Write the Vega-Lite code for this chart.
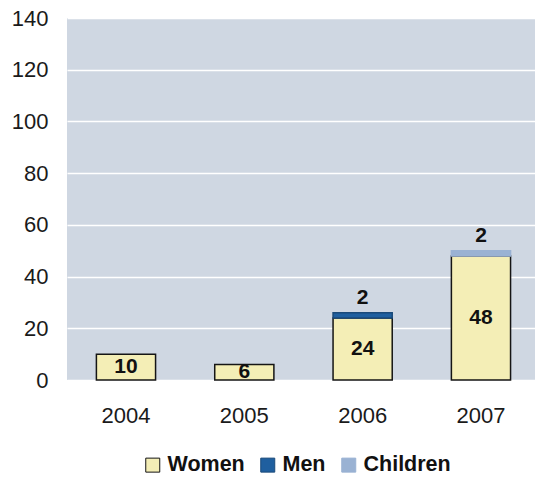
{
  "$schema": "https://vega.github.io/schema/vega-lite/v6.json",
  "width": 468,
  "height": 362,
  "autosize": {"type": "none"},
  "padding": {"left": 67, "top": 18, "right": 0, "bottom": 97},
  "background": "white",
  "config": {
    "font": "Liberation Sans",
    "view": {"fill": "#CFD7E2", "stroke": null},
    "legend": {
      "orient": "none",
      "legendX": 75,
      "legendY": 436,
      "direction": "horizontal",
      "title": null,
      "labelFontSize": 21.5,
      "labelFontWeight": "bold",
      "labelColor": "#111111",
      "labelOffset": 4,
      "columnPadding": 12,
      "symbolType": "square",
      "symbolSize": 196,
      "symbolStrokeWidth": 1,
      "symbolOpacity": 1
    }
  },
  "data": {
    "values": [
      {"year": "2004", "group": "Women", "value": 10},
      {"year": "2005", "group": "Women", "value": 6},
      {"year": "2006", "group": "Women", "value": 24},
      {"year": "2006", "group": "Men", "value": 2},
      {"year": "2007", "group": "Women", "value": 48},
      {"year": "2007", "group": "Children", "value": 2}
    ]
  },
  "transform": [
    {"stack": "value", "groupby": ["year"], "sort": [{"field": "group", "order": "descending"}], "as": ["v0", "v1"]}
  ],
  "encoding": {
    "x": {
      "field": "year",
      "type": "nominal",
      "scale": {"paddingInner": 0.5, "paddingOuter": 0.2275, "align": 0.546},
      "axis": {
        "title": null,
        "labelAngle": 0,
        "labelFontSize": 22,
        "labelColor": "#1a1a1a",
        "labelPadding": 25,
        "domain": false,
        "ticks": false
      }
    }
  },
  "layer": [
    {
      "mark": {"type": "bar", "strokeWidth": 1.5},
      "encoding": {
        "y": {
          "field": "v1",
          "type": "quantitative",
          "scale": {"domain": [0, 140]},
          "axis": {
            "title": null,
            "values": [0, 20, 40, 60, 80, 100, 120, 140],
            "labelFontSize": 22,
            "labelColor": "#1a1a1a",
            "labelPadding": 19,
            "domain": false,
            "ticks": false,
            "gridColor": "#FFFFFF",
            "gridWidth": 1.5,
            "gridOpacity": 1
          }
        },
        "y2": {"field": "v0"},
        "color": {
          "field": "group",
          "type": "nominal",
          "scale": {"domain": ["Women", "Men", "Children"], "range": ["#F4EEB6", "#1F5F9F", "#9AB2D3"]},
          "legend": {"title": null}
        },
        "stroke": {
          "field": "group",
          "type": "nominal",
          "scale": {"domain": ["Women", "Men", "Children"], "range": ["#151515", "#1A4A7A", "#9AB2D3"]},
          "legend": {"title": null}
        }
      }
    },
    {
      "transform": [{"filter": "datum.group === 'Women'"}],
      "mark": {"type": "text", "fontSize": 21, "fontWeight": "bold", "baseline": "middle", "color": "#111111"},
      "encoding": {
        "y": {"field": "v1", "type": "quantitative", "scale": {"domain": [0, 280]}, "axis": null},
        "text": {"field": "value", "type": "quantitative"}
      }
    },
    {
      "transform": [{"filter": "datum.group !== 'Women'"}],
      "mark": {"type": "text", "fontSize": 21, "fontWeight": "bold", "baseline": "bottom", "dy": -5, "color": "#111111"},
      "encoding": {
        "y": {"field": "v1", "type": "quantitative", "scale": {"domain": [0, 140]}, "axis": null},
        "text": {"field": "value", "type": "quantitative"}
      }
    }
  ],
  "resolve": {"scale": {"y": "independent"}}
}
